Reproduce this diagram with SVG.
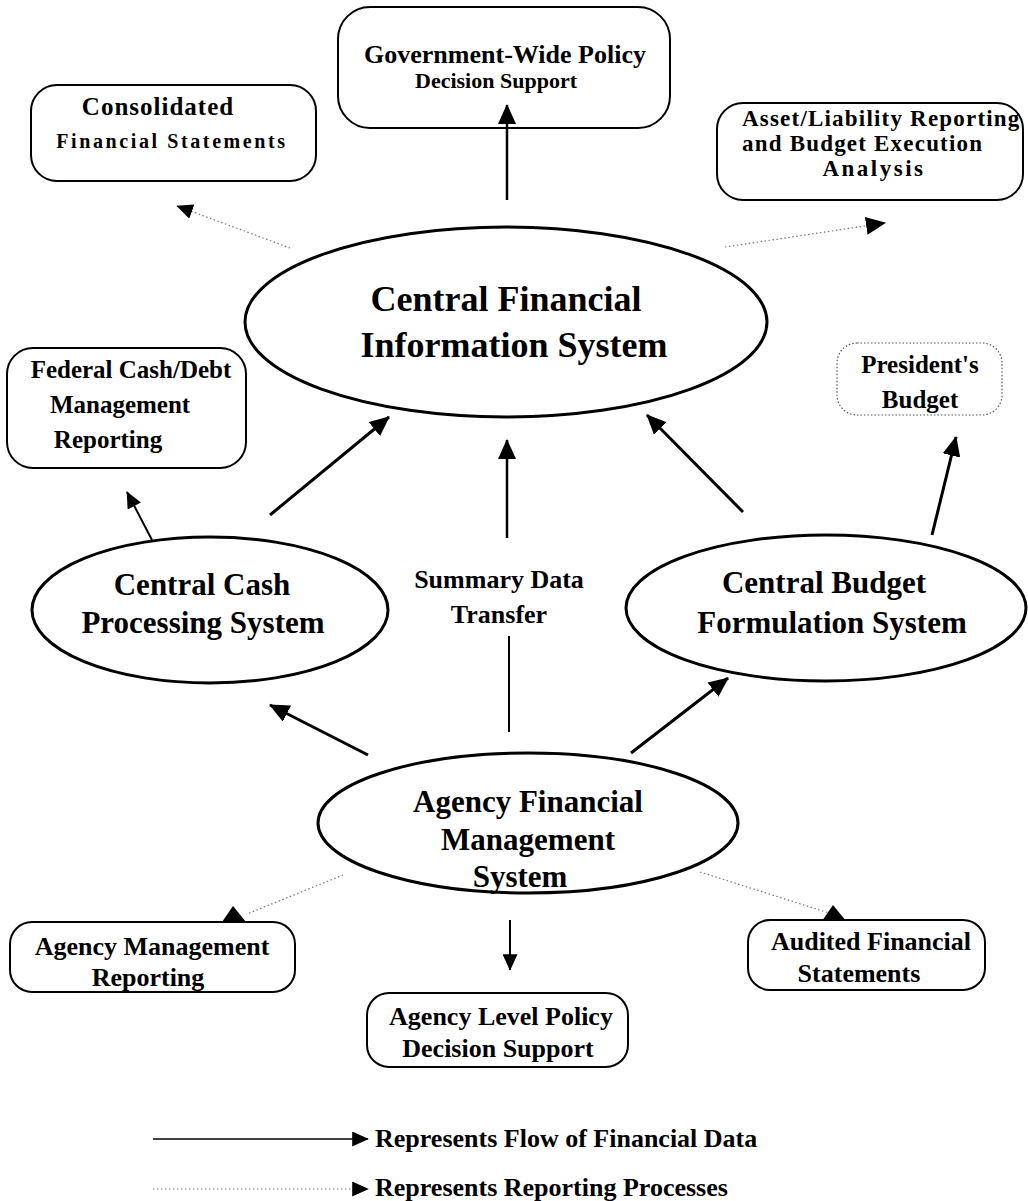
<svg xmlns="http://www.w3.org/2000/svg" width="1028" height="1201" viewBox="0 0 1028 1201">
<style>
text{font-family:"Liberation Serif","Times New Roman",serif;font-weight:bold;fill:#000;text-anchor:middle}
.box{fill:none;stroke:#000;stroke-width:2}
.dbox{fill:none;stroke:#555;stroke-width:1.2;stroke-dasharray:1.5 2}
.ell{fill:none;stroke:#000;stroke-width:3}
.flow{stroke:#000;fill:none}
.rep{stroke:#777;stroke-width:1.2;fill:none;stroke-dasharray:1.5 2.5}
.head{fill:#000}
.t36{font-size:36px}.t31{font-size:31px}.t26{font-size:26px}.t25{font-size:25px}.t23{font-size:23px}.t22{font-size:22px}.t20{font-size:20px}
</style>
<defs>
<marker id="ah" viewBox="0 0 20 18" refX="19" refY="9" markerWidth="20" markerHeight="18" markerUnits="userSpaceOnUse" orient="auto">
<path d="M0,0 L20,9 L0,18 z" fill="#000"/>
</marker>
<marker id="ahs" viewBox="0 0 20 18" refX="19" refY="9" markerWidth="17" markerHeight="15" markerUnits="userSpaceOnUse" orient="auto">
<path d="M0,0 L20,9 L0,18 z" fill="#000"/>
</marker>
</defs>

<g id="gov-wide">
<rect class="box" x="338" y="7" width="332" height="121" rx="32"/>
<text class="t26" x="505" y="63">Government-Wide Policy</text>
<text class="t22" x="496" y="88">Decision Support</text>
</g>

<g id="consolidated">
<rect class="box" x="31" y="85" width="285" height="96" rx="26"/>
<text class="t25" x="158" y="115" letter-spacing="1">Consolidated</text>
<text class="t20" x="172" y="148" letter-spacing="2.6">Financial Statements</text>
</g>

<g id="asset-liability">
<rect class="box" x="717" y="103" width="306" height="97" rx="26"/>
<text class="t23" x="742" y="126" letter-spacing="1.2" style="text-anchor:start">Asset/Liability Reporting</text>
<text class="t23" x="742" y="151" letter-spacing="1.2" style="text-anchor:start">and Budget Execution</text>
<text class="t23" x="874" y="176" letter-spacing="2.5">Analysis</text>
</g>

<g id="cfis">
<ellipse class="ell" cx="506" cy="322" rx="261" ry="95"/>
<text class="t36" x="506" y="311">Central Financial</text>
<text class="t36" x="514" y="357">Information System</text>
</g>

<g id="federal-cash">
<rect class="box" x="7" y="348" width="239" height="120" rx="26"/>
<text class="t25" x="131" y="378">Federal Cash/Debt</text>
<text class="t25" x="120" y="413">Management</text>
<text class="t25" x="108" y="448">Reporting</text>
</g>

<g id="presidents-budget">
<rect class="dbox" x="837" y="343" width="165" height="72" rx="20"/>
<text class="t25" x="920" y="373">President's</text>
<text class="t25" x="920" y="408">Budget</text>
</g>

<g id="central-cash">
<ellipse class="ell" cx="210" cy="610" rx="178" ry="73"/>
<text class="t31" x="202" y="595">Central Cash</text>
<text class="t31" x="203" y="633">Processing System</text>
</g>

<g id="summary-label">
<text class="t26" x="499" y="588">Summary Data</text>
<text class="t26" x="499" y="623">Transfer</text>
</g>

<g id="central-budget">
<ellipse class="ell" cx="826" cy="608" rx="200" ry="73"/>
<text class="t31" x="824" y="593">Central Budget</text>
<text class="t31" x="832" y="633">Formulation System</text>
</g>

<g id="agency-fms">
<ellipse class="ell" cx="528" cy="823" rx="210" ry="70"/>
<text class="t31" x="528" y="812">Agency Financial</text>
<text class="t31" x="528" y="850">Management</text>
<text class="t31" x="520" y="887">System</text>
</g>

<g id="agency-mgmt">
<rect class="box" x="10" y="922" width="285" height="70" rx="22"/>
<text class="t26" x="152" y="955">Agency Management</text>
<text class="t26" x="148" y="986">Reporting</text>
</g>

<g id="agency-policy">
<rect class="box" x="367" y="993" width="261" height="74" rx="22"/>
<text class="t26" x="501" y="1025">Agency Level Policy</text>
<text class="t26" x="498" y="1057">Decision Support</text>
</g>

<g id="audited">
<rect class="box" x="748" y="920" width="237" height="70" rx="22"/>
<text class="t26" x="871" y="950">Audited Financial</text>
<text class="t26" x="859" y="982">Statements</text>
</g>

<g id="connectors">
<line class="flow" stroke-width="2.5" x1="507" y1="200" x2="507" y2="105" marker-end="url(#ah)"/>
<line class="flow" stroke-width="2" x1="152" y1="540" x2="127" y2="492" marker-end="url(#ahs)"/>
<line class="flow" stroke-width="3" x1="270" y1="515" x2="389" y2="417" marker-end="url(#ah)"/>
<line class="flow" stroke-width="2.5" x1="507" y1="538" x2="507" y2="440" marker-end="url(#ah)"/>
<line class="flow" stroke-width="3" x1="743" y1="512" x2="647" y2="415" marker-end="url(#ah)"/>
<line class="flow" stroke-width="3" x1="932" y1="535" x2="956" y2="437" marker-end="url(#ah)"/>
<line class="flow" stroke-width="3" x1="368" y1="755" x2="270" y2="705" marker-end="url(#ah)"/>
<line class="flow" stroke-width="3" x1="631" y1="753" x2="728" y2="678" marker-end="url(#ah)"/>
<line class="flow" stroke-width="2" x1="509" y1="732" x2="509" y2="636"/>
<line class="flow" stroke-width="2" x1="510" y1="920" x2="510" y2="970" marker-end="url(#ahs)"/>
<line class="rep" x1="290" y1="248" x2="177" y2="206" marker-end="url(#ahs)"/>
<line class="rep" x1="725" y1="247" x2="885" y2="223" marker-end="url(#ah)"/>
<line class="rep" x1="343" y1="875" x2="247" y2="914"/>
<polygon class="head" points="233,906 222,922 246,922"/>
<line class="rep" x1="700" y1="872" x2="829" y2="913"/>
<polygon class="head" points="833,905 822,921 846,921"/>
</g>

<g id="legend">
<line class="flow" stroke-width="1.5" x1="153" y1="1139" x2="368" y2="1139" marker-end="url(#ahs)"/>
<text class="t26" x="375" y="1147" style="text-anchor:start">Represents Flow of Financial Data</text>
<line class="rep" stroke="#444" x1="153" y1="1189" x2="368" y2="1189" marker-end="url(#ahs)"/>
<text class="t26" x="375" y="1196" style="text-anchor:start">Represents Reporting Processes</text>
</g>
</svg>
